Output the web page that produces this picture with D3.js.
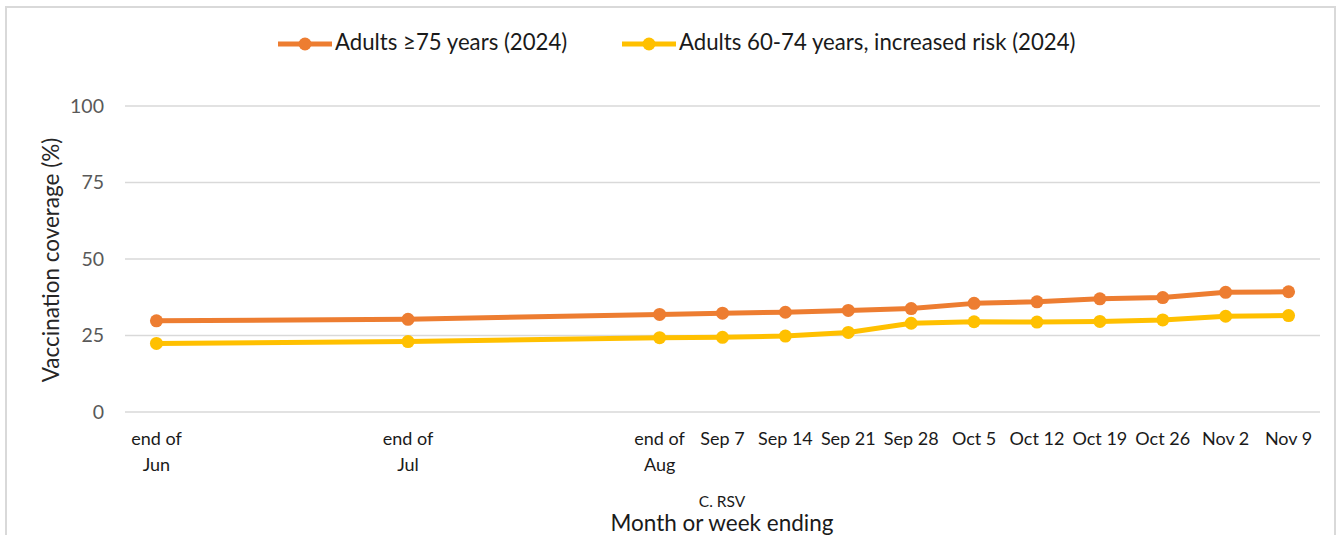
<!DOCTYPE html>
<html>
<head>
<meta charset="utf-8">
<script src="https://cdn.jsdelivr.net/npm/d3@7"></script>
<style>
  html, body { margin: 0; padding: 0; background: #fff; }
  svg { display: block; font-family: Lato, "Open Sans", sans-serif; }
</style>
</head>
<body>
<svg width="1338" height="535"></svg>
<script>
// categories: months are 4 slots apart, weeks 1 slot
const labels = ["end of|Jun", "end of|Jul", "end of|Aug", "Sep 7", "Sep 14", "Sep 21", "Sep 28",
  "Oct 5", "Oct 12", "Oct 19", "Oct 26", "Nov 2", "Nov 9"];
const slots = [0, 4, 8, 9, 10, 11, 12, 13, 14, 15, 16, 17, 18];
const adults75 = [29.8, 30.3, 31.9, 32.3, 32.6, 33.2, 33.8, 35.5, 36.0, 37.0, 37.4, 39.1, 39.3];
const adults6074 = [22.4, 23.0, 24.3, 24.4, 24.8, 26.0, 29.0, 29.5, 29.4, 29.6, 30.1, 31.3, 31.5];
const yTicks = [0, 25, 50, 75, 100];

const series = [
  {name: "Adults \u226575 years (2024)", color: "#ED7D31", values: adults75},
  {name: "Adults 60-74 years, increased risk (2024)", color: "#FFC000", values: adults6074}
];

const svg = d3.select("svg");

// outer border
svg.append("rect")
  .attr("x", 6).attr("y", 7).attr("width", 1329).attr("height", 540)
  .attr("fill", "none").attr("stroke", "#d9d9d9").attr("stroke-width", 2);

const x = d3.scaleLinear().domain([-0.5, 18.5]).range([125, 1320]);
const y = d3.scaleLinear().domain([0, 100]).range([412, 106]);

// gridlines
svg.append("g")
  .selectAll("line")
  .data(yTicks)
  .join("line")
    .attr("x1", x(-0.5)).attr("x2", x(18.5))
    .attr("y1", d => y(d)).attr("y2", d => y(d))
    .attr("stroke", "#d9d9d9").attr("stroke-width", 1.5);

// y axis labels
const yAxis = svg.append("g")
  .attr("transform", `translate(${x(-0.5)},0)`)
  .call(d3.axisLeft(y).tickValues(yTicks).tickSize(0).tickPadding(21));
yAxis.select(".domain").remove();
yAxis.selectAll("text")
  .attr("fill", "#595959")
  .style("font-size", "19.5px")
  .style("font-family", "Lato, 'Open Sans', sans-serif");

svg.append("text")
  .attr("transform", "translate(53,260) rotate(-90)")
  .attr("text-anchor", "middle")
  .attr("dominant-baseline", "middle")
  .attr("fill", "#262626")
  .style("font-size", "22.5px")
  .text("Vaccination coverage (%)");

// x tick labels
const xl = svg.append("g")
  .selectAll("text")
  .data(labels)
  .join("text")
    .attr("x", (d, i) => x(slots[i]))
    .attr("y", 445)
    .attr("text-anchor", "middle")
    .attr("fill", "#1a1a1a")
    .style("font-size", "18px");
xl.each(function(d) {
  const parts = d.split("|");
  d3.select(this).selectAll("tspan")
    .data(parts)
    .join("tspan")
      .attr("x", d3.select(this).attr("x"))
      .attr("dy", (p, j) => j === 0 ? 0 : 26)
      .text(p => p);
});

svg.append("text")
  .attr("x", 722).attr("y", 507)
  .attr("text-anchor", "middle")
  .attr("fill", "#1a1a1a")
  .style("font-size", "15.5px")
  .text("C. RSV");

svg.append("text")
  .attr("x", 722).attr("y", 531)
  .attr("text-anchor", "middle")
  .attr("fill", "#1a1a1a")
  .style("font-size", "22.5px")
  .text("Month or week ending");

// lines and markers
const line = d3.line()
  .x((d, i) => x(slots[i]))
  .y(d => y(d));

series.forEach(s => {
  svg.append("path")
    .datum(s.values)
    .attr("d", line)
    .attr("fill", "none")
    .attr("stroke", s.color)
    .attr("stroke-width", 5)
    .attr("stroke-linejoin", "round");
  svg.append("g")
    .selectAll("circle")
    .data(s.values)
    .join("circle")
      .attr("cx", (d, i) => x(slots[i]))
      .attr("cy", d => y(d))
      .attr("r", 6.5)
      .attr("fill", s.color);
});

// legend
const legendPos = [278, 622];
const lg = svg.append("g")
  .selectAll("g")
  .data(series)
  .join("g")
    .attr("transform", (d, i) => `translate(${legendPos[i]},44)`);
lg.append("line")
  .attr("x1", 0).attr("x2", 54)
  .attr("stroke", d => d.color).attr("stroke-width", 5);
lg.append("circle")
  .attr("cx", 27).attr("r", 6.5)
  .attr("fill", d => d.color);
lg.append("text")
  .attr("x", 57)
  .attr("dominant-baseline", "middle")
  .attr("fill", "#1a1a1a")
  .style("font-size", "22.2px")
  .text(d => d.name);
</script>
</body>
</html>
